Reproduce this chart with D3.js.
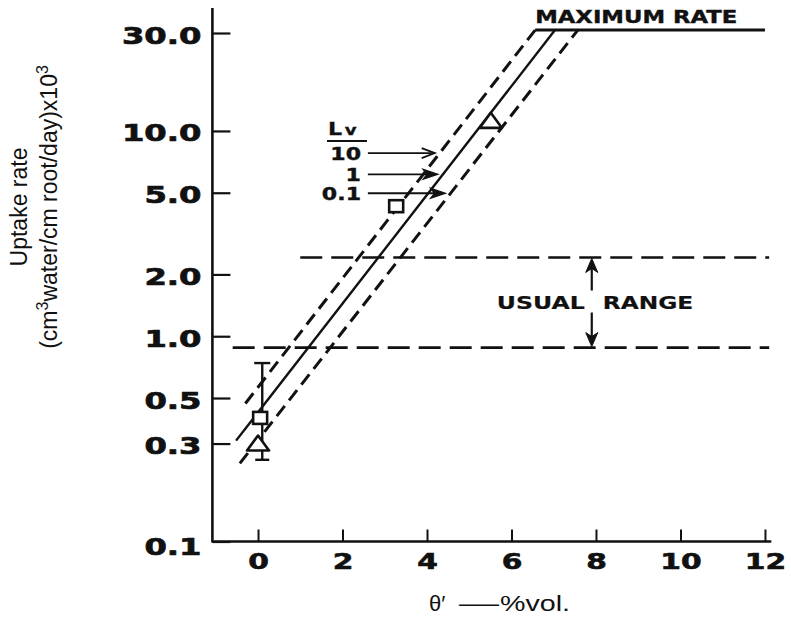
<!DOCTYPE html>
<html>
<head>
<meta charset="utf-8">
<script src="https://cdn.jsdelivr.net/npm/d3@7"></script>
<style>
  body { margin: 0; background: #fff; }
  svg { display: block; }
</style>
</head>
<body>
<script>
// Root water uptake rate against soil water content for three root length densities (Lv)
const xTicks = [0, 2, 4, 6, 8, 10, 12];
const yTicks = [0.1, 0.3, 0.5, 1.0, 2.0, 5.0, 10.0, 30.0];
const yTickLabels = ["0.1", "0.3", "0.5", "1.0", "2.0", "5.0", "10.0", "30.0"];

const maxRate = 31;
// Uptake lines as [theta, rate] end points
const lineLv10 = [[-0.30, 0.47], [6.56, maxRate]];
const lineLv1 = [[-0.52, 0.31], [7.03, maxRate]];
const lineLv01 = [[-0.43, 0.24], [7.57, maxRate]];
const maxRateLine = [[6.56, maxRate], [12.0, maxRate]];

// Usual range band: rate limits and theta extents of each bound
const usualRange = [0.88, 2.42];
const usualLowerExtent = [-0.6, 12.1];
const usualUpperExtent = [1.0, 12.1];
const usualArrowTheta = 7.9;

// Observations
const squares = [[3.27, 4.3], [0.05, 0.40]];
const triangles = [[5.51, 11.2], [0.0, 0.30]];
const errorBar = { theta: 0.1, lo: 0.25, hi: 0.74 };

// Lv key arrows
const lvLabels = ["10", "1", "0.1"];
const lvArrowRates = [7.8, 6.15, 4.97];
const lvLines = [lineLv10, lineLv1, lineLv01];
const lvArrowStart = 2.6;

const W = 791, H = 619;
const svg = d3.select("body").append("svg").attr("width", W).attr("height", H);

const x = d3.scaleLinear().domain([-1.08, 12.15]).range([212.4, 771.3]);
const y = d3.scaleLog().domain([0.1, 30]).range([541.5, 33]);

const ink = "#111";
const letterFont = "'DejaVu Sans', sans-serif";
const x0 = x.range()[0], yBottom = y.range()[0];

// Heavy hand-lettered style
function lettered(sel, size, weightStroke) {
  return sel.attr("fill", ink)
    .attr("stroke", ink).attr("stroke-width", weightStroke)
    .style("font-family", letterFont).style("font-weight", "bold").style("font-size", size + "px");
}

// theta at which a straight (log-rate) line reaches a given rate
function thetaAt(line, v) {
  const [[t0, v0], [t1, v1]] = line;
  const f = (Math.log10(v) - Math.log10(v0)) / (Math.log10(v1) - Math.log10(v0));
  return t0 + f * (t1 - t0);
}

// Y axis
const yAxis = d3.axisLeft(y).tickValues(yTicks).tickSize(-18).tickSizeOuter(0)
  .tickFormat((d, i) => yTickLabels[i]);
const gy = svg.append("g").attr("transform", `translate(${x0},0)`).call(yAxis);
gy.select(".domain").remove();
gy.selectAll(".tick line").attr("stroke", ink).attr("stroke-width", 2.2);
gy.selectAll(".tick text")
  .attr("x", null).attr("dy", null)
  .attr("transform", d => `translate(-11,${d === 0.1 ? 13 : 10}) scale(1.4,1)`)
  .attr("text-anchor", "end")
  .call(lettered, 23, 0.7);

// X axis
const xAxis = d3.axisBottom(x).tickValues(xTicks).tickSize(-12).tickSizeOuter(0)
  .tickFormat(d3.format("d"));
const gx = svg.append("g").attr("transform", `translate(0,${yBottom})`).call(xAxis);
gx.select(".domain").remove();
gx.selectAll(".tick line").attr("stroke", ink).attr("stroke-width", 2);
gx.selectAll(".tick text")
  .attr("y", null).attr("dy", null)
  .attr("transform", "translate(0,27) scale(1.45,1)")
  .call(lettered, 20.5, 0.6);

// Axis lines
svg.append("line").attr("x1", x0).attr("x2", x0).attr("y1", 8).attr("y2", yBottom + 1)
  .attr("stroke", ink).attr("stroke-width", 2.6);
svg.append("line").attr("x1", x0).attr("x2", x.range()[1]).attr("y1", yBottom).attr("y2", yBottom)
  .attr("stroke", ink).attr("stroke-width", 2.4);

const lineGen = d3.line().x(d => x(d[0])).y(d => y(d[1]));

// Usual range bounds
svg.append("path").datum([[usualLowerExtent[0], usualRange[0]], [usualLowerExtent[1], usualRange[0]]])
  .attr("d", lineGen).attr("fill", "none").attr("stroke", ink).attr("stroke-width", 2.6)
  .attr("stroke-dasharray", "22,9");
svg.append("path").datum([[usualUpperExtent[0], usualRange[1]], [usualUpperExtent[1], usualRange[1]]])
  .attr("d", lineGen).attr("fill", "none").attr("stroke", ink).attr("stroke-width", 2.6)
  .attr("stroke-dasharray", "22,9");

// Uptake lines
svg.append("path").datum(lineLv10).attr("d", lineGen).attr("fill", "none")
  .attr("stroke", ink).attr("stroke-width", 3).attr("stroke-dasharray", "13,7");
svg.append("path").datum(lineLv1).attr("d", lineGen).attr("fill", "none")
  .attr("stroke", ink).attr("stroke-width", 2.4);
svg.append("path").datum(lineLv01).attr("d", lineGen).attr("fill", "none")
  .attr("stroke", ink).attr("stroke-width", 3).attr("stroke-dasharray", "13,7");
svg.append("path").datum(maxRateLine).attr("d", lineGen).attr("fill", "none")
  .attr("stroke", ink).attr("stroke-width", 3);

// Maximum rate label
svg.append("text").text("MAXIMUM RATE")
  .attr("transform", `translate(${x(maxRateLine[0][0])},${y(maxRate) - 7}) scale(1.3,1)`)
  .call(lettered, 17.5, 0.4);

// Usual range arrows and label
const ax = x(usualArrowTheta);
const yUp = y(usualRange[1]), yLo = y(usualRange[0]);
const yMid = (yUp + yLo) / 2;
svg.append("line").attr("x1", ax).attr("x2", ax).attr("y1", yMid - 12).attr("y2", yUp + 8)
  .attr("stroke", ink).attr("stroke-width", 2.2);
svg.append("path").attr("d", `M${ax},${yUp + 1} L${ax - 6},${yUp + 15} L${ax},${yUp + 11} L${ax + 6},${yUp + 15} Z`)
  .attr("fill", ink).attr("stroke", ink).attr("stroke-width", 1);
svg.append("line").attr("x1", ax).attr("x2", ax).attr("y1", yMid + 10).attr("y2", yLo - 8)
  .attr("stroke", ink).attr("stroke-width", 2.2);
svg.append("path").attr("d", `M${ax},${yLo - 1} L${ax - 6},${yLo - 15} L${ax},${yLo - 11} L${ax + 6},${yLo - 15} Z`)
  .attr("fill", ink).attr("stroke", ink).attr("stroke-width", 1);
svg.append("text").text("USUAL")
  .attr("transform", `translate(${ax - 7},${yMid + 6}) scale(1.35,1)`).attr("text-anchor", "end")
  .call(lettered, 17.5, 0.2);
svg.append("text").text("RANGE")
  .attr("transform", `translate(${ax + 11},${yMid + 6}) scale(1.33,1)`)
  .call(lettered, 17.5, 0.2);

// Error bar and observations
const eb = svg.append("g").attr("stroke", ink).attr("stroke-width", 2.4);
const ebx = x(errorBar.theta);
eb.append("line").attr("x1", ebx).attr("x2", ebx).attr("y1", y(errorBar.hi)).attr("y2", y(errorBar.lo));
eb.append("line").attr("x1", ebx - 8).attr("x2", ebx + 8).attr("y1", y(errorBar.hi)).attr("y2", y(errorBar.hi));
eb.append("line").attr("x1", ebx - 7).attr("x2", ebx + 7).attr("y1", y(errorBar.lo)).attr("y2", y(errorBar.lo));

svg.selectAll("rect.obs").data(squares).join("rect").attr("class", "obs")
  .attr("x", d => x(d[0]) - 7).attr("y", d => y(d[1]) - 6).attr("width", 14).attr("height", 12)
  .attr("fill", "#fff").attr("stroke", ink).attr("stroke-width", 2.6);
svg.selectAll("path.tri").data(triangles).join("path").attr("class", "tri")
  .attr("d", d => {
    const cx = x(d[0]), cy = y(d[1]);
    return `M${cx},${cy - 8} L${cx + 11},${cy + 7} L${cx - 11},${cy + 7} Z`;
  })
  .attr("fill", "#fff").attr("stroke", ink).attr("stroke-width", 2.6).attr("stroke-linejoin", "round");

// Lv key: label, fraction bar and arrows pointing at each line
const keyX = 361;
svg.append("text").attr("transform", "translate(328,135) scale(1.3,1)")
  .call(lettered, 17, 0.3)
  .call(t => {
    t.append("tspan").text("L");
    t.append("tspan").text("v").attr("dx", 2).style("font-size", "14px");
  });
svg.append("line").attr("x1", 327).attr("x2", 367).attr("y1", 141).attr("y2", 141)
  .attr("stroke", ink).attr("stroke-width", 2);

lvLabels.forEach((lab, i) => {
  const v = lvArrowRates[i];
  const ay = y(v);
  const tipX = x(thetaAt(lvLines[i], v)) - 5;
  const sx = x(lvArrowStart);
  svg.append("text").text(lab)
    .attr("transform", `translate(${keyX},${ay + 7}) scale(1.3,1)`).attr("text-anchor", "end")
    .call(lettered, 17, 0.4);
  svg.append("line").attr("x1", sx).attr("x2", tipX - 3).attr("y1", ay).attr("y2", ay)
    .attr("stroke", ink).attr("stroke-width", 1.8);
  if (i === 0) {
    svg.append("path").attr("d", `M${tipX - 13},${ay - 5} L${tipX},${ay} L${tipX - 13},${ay + 5}`)
      .attr("fill", "none").attr("stroke", ink).attr("stroke-width", 1.8);
  } else {
    svg.append("path").attr("d", `M${tipX},${ay} L${tipX - 15},${ay - 5} L${tipX - 11},${ay} L${tipX - 15},${ay + 5} Z`)
      .attr("fill", ink).attr("stroke", ink).attr("stroke-width", 1.2);
  }
});

// Axis titles
const titleFont = "'Liberation Sans', Arial, sans-serif";
svg.append("text").text("Uptake rate")
  .attr("transform", "translate(27,207) rotate(-90)").attr("text-anchor", "middle")
  .attr("fill", ink).style("font-family", titleFont).style("font-size", "23px");
svg.append("text")
  .attr("transform", "translate(57,207) rotate(-90)").attr("text-anchor", "middle")
  .attr("fill", ink).style("font-family", titleFont).style("font-size", "23px")
  .call(t => {
    t.append("tspan").text("(cm");
    t.append("tspan").text("3").attr("dy", -9).style("font-size", "16px");
    t.append("tspan").text("water/cm root/day)x10").attr("dy", 9);
    t.append("tspan").text("3").attr("dy", -9).style("font-size", "16px");
  });

// x-axis title, set in three pieces
const xt = svg.append("g").attr("fill", ink).style("font-family", titleFont);
xt.append("text").text("\u03b8\u2032").attr("x", 429).attr("y", 611).style("font-size", "22px");
xt.append("text").text("\u2014").attr("x", 459).attr("y", 611)
  .attr("textLength", 40).attr("lengthAdjust", "spacingAndGlyphs").style("font-size", "22px");
xt.append("text").text("%vol.").attr("x", 500).attr("y", 611)
  .attr("textLength", 70).attr("lengthAdjust", "spacingAndGlyphs").style("font-size", "22px");
</script>
</body>
</html>
